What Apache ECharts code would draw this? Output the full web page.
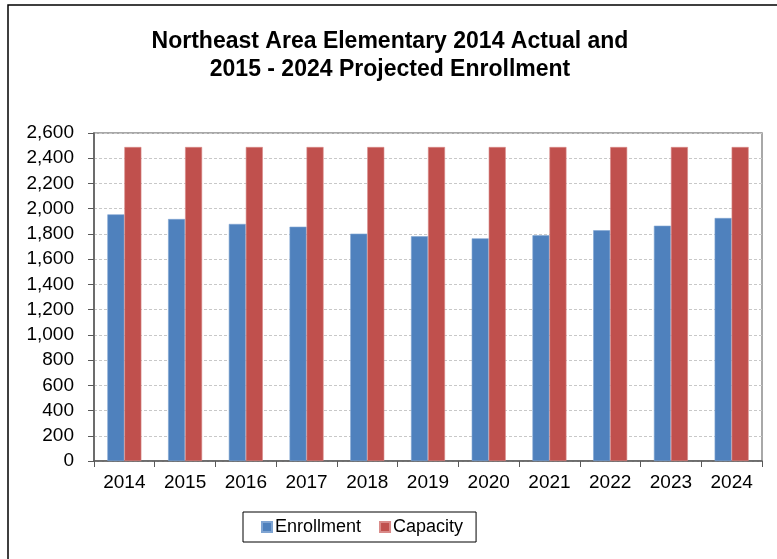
<!DOCTYPE html>
<html>
<head>
<meta charset="utf-8">
<script src="https://cdn.jsdelivr.net/npm/echarts@6/dist/echarts.min.js"></script>
<style>
html,body{margin:0;padding:0;background:#fff;}
#chart{width:777px;height:559px;}
</style>
</head>
<body>
<div id="chart"></div>
<script>
const categories = ['2014','2015','2016','2017','2018','2019','2020','2021','2022','2023','2024'];
const enrollment = [1955, 1918, 1879, 1857, 1802, 1781, 1765, 1789, 1829, 1865, 1926];
const capacity = [2489, 2489, 2489, 2489, 2489, 2489, 2489, 2489, 2489, 2489, 2489];
const titleLines = ['Northeast Area Elementary 2014 Actual and', '2015 - 2024 Projected Enrollment'];
const yMin = 0, yMax = 2600, yStep = 200;

const FONT = '"Liberation Sans", Arial, sans-serif';
const chart = echarts.init(document.getElementById('chart'));
chart.setOption({
  animation: false,
  backgroundColor: '#fff',
  textStyle: { fontFamily: FONT },
  title: {
    text: titleLines.join('\n'),
    left: 385,
    textAlign: 'center',
    top: 23,
    textStyle: { fontFamily: FONT, fontSize: 23, fontWeight: 'bold', color: '#000', lineHeight: 28 }
  },
  graphic: [{
    type: 'rect',
    shape: { x: 8, y: 5, width: 800, height: 600 },
    style: { fill: 'none', stroke: '#000', lineWidth: 1.5 },
    z: -1
  }],
  legend: {
    left: 243,
    top: 512,
    orient: 'horizontal',
    itemWidth: 10,
    itemHeight: 10,
    itemGap: 18,
    padding: [6, 13, 6, 18],
    borderColor: '#000',
    borderWidth: 1,
    icon: 'rect',
    textStyle: { fontFamily: FONT, fontSize: 18, color: '#000', padding: [0, 0, 0, -2] },
    data: ['Enrollment', 'Capacity']
  },
  grid: {
    left: 94, right: 15, top: 133, bottom: 98,
    show: true, borderColor: '#8c8c8c', borderWidth: 1.5, backgroundColor: 'transparent'
  },
  xAxis: {
    type: 'category',
    data: categories,
    axisLine: { lineStyle: { color: '#595959', width: 1.5 } },
    axisTick: { show: true, length: 6, alignWithLabel: false, lineStyle: { color: '#595959' } },
    axisLabel: { fontFamily: FONT, fontSize: 19, color: '#000', margin: 12 }
  },
  yAxis: {
    type: 'value',
    min: yMin, max: yMax, interval: yStep,
    axisLine: { show: true, lineStyle: { color: '#595959', width: 1.5 } },
    axisTick: { show: true, length: 6, lineStyle: { color: '#595959' } },
    axisLabel: {
      fontFamily: FONT, fontSize: 19, color: '#000', margin: 20,
      formatter: v => v.toLocaleString('en-US')
    },
    splitLine: { show: true, lineStyle: { color: '#c8c8c8', type: [3, 2], width: 1 } }
  },
  series: [
    {
      name: 'Enrollment', type: 'bar', data: enrollment,
      barWidth: 17, barGap: '0%',
      itemStyle: { color: '#4F81BD', borderColor: '#7fa4d2', borderWidth: 0.6 }
    },
    {
      name: 'Capacity', type: 'bar', data: capacity,
      barWidth: 17,
      itemStyle: { color: '#C0504D', borderColor: '#d98a88', borderWidth: 0.6 }
    }
  ]
});
</script>
</body>
</html>
